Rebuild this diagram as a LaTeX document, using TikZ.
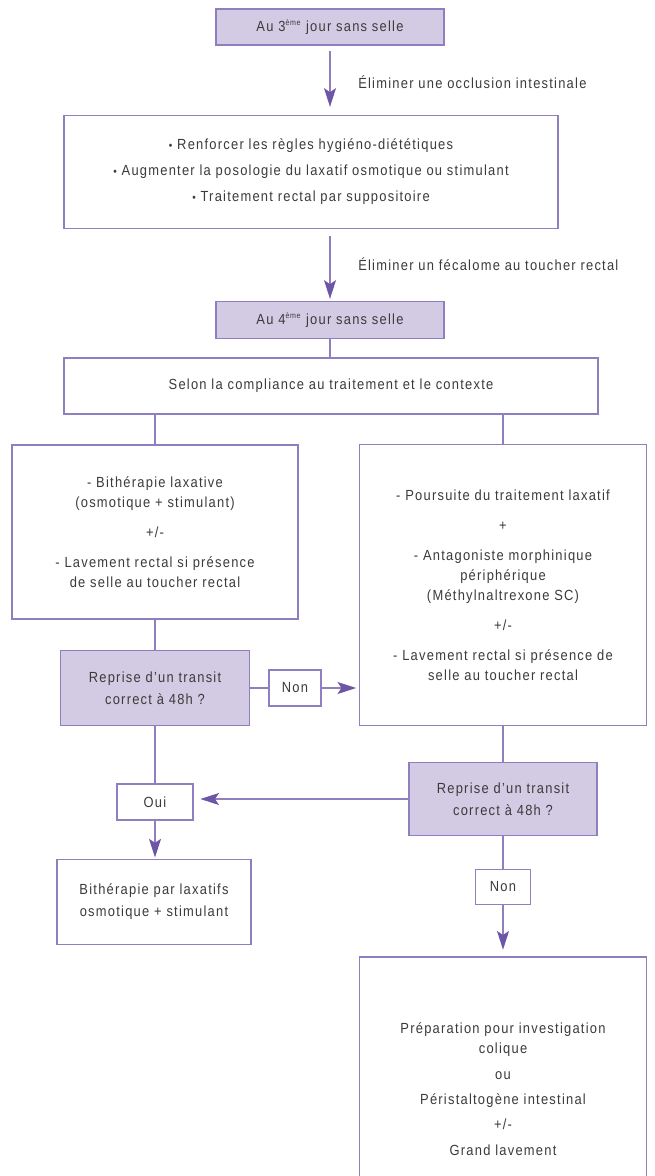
\documentclass[tikz,border=0pt]{standalone}
\usepackage{fontspec}
\setmainfont{Liberation Sans}[FakeStretch=0.88,LetterSpace=8.5]
\usepackage{tikz}
\usetikzlibrary{arrows.meta,positioning}
\definecolor{flowpurple}{HTML}{8F7FC0}
\definecolor{flowhead}{HTML}{6E56A6}
\definecolor{flowfill}{HTML}{D3CBE3}
\definecolor{flowtext}{HTML}{3B3B3B}
\newcommand{\pix}{0.75pt}
\tikzset{
  boxbase/.style={draw=flowpurple,line width=1pt,align=center,inner sep=2pt,text=flowtext,font=\fontsize{11}{15}\selectfont},
  stepbox/.style={boxbase,fill=white},
  daybox/.style={boxbase,fill=flowfill},
  ansbox/.style={boxbase,fill=white,minimum height=36*\pix},
  edgelabel/.style={text=flowtext,font=\fontsize{11}{15}\selectfont,inner sep=0pt},
  flowline/.style={draw=flowpurple,line width=1pt},
  flowarrow/.style={flowline,-{Stealth[length=14pt,width=9pt,inset=3pt,color=flowhead]}},
}
\newcommand{\gap}{\\[7.5pt]}
\newcommand{\blt}{{\fontsize{8.5}{8}\selectfont•}}
\newcommand{\eme}{\textsuperscript{\fontsize{6}{6}\selectfont ème}}

\begin{document}
\begin{tikzpicture}[x=\pix,y=-\pix]
  \useasboundingbox (0,0) rectangle (654,1176);
  % top of the chart
  \node[daybox,minimum width=228*\pix,minimum height=36*\pix] (day3) at (330,27) {Au 3\eme{} jour sans selle};
  \node[edgelabel,anchor=west] (occl) at (358,82) {Éliminer une occlusion intestinale};
  \node[stepbox,minimum width=494*\pix,minimum height=113*\pix] (reinf) at (311,172)
    {\blt{} Renforcer les règles hygiéno-diététiques\\[4.5pt]
     \blt{} Augmenter la posologie du laxatif osmotique ou stimulant\\[4.5pt]
     \blt{} Traitement rectal par suppositoire};
  \node[edgelabel,anchor=west] (fecal) at (358,264) {Éliminer un fécalome au toucher rectal};
  \node[daybox,minimum width=228*\pix,minimum height=37*\pix] (day4) at (330,320) {Au 4\eme{} jour sans selle};
  \node[stepbox,minimum width=534*\pix,minimum height=56*\pix] (ctx) at (331,386) {Selon la compliance au traitement et le contexte};

  % two branches
  \node[stepbox,minimum width=286*\pix,minimum height=174*\pix] (bithL) at (155,532)
    {- Bithérapie laxative\\(osmotique + stimulant)\gap +/-\gap
     - Lavement rectal si présence\\de selle au toucher rectal};
  \node[stepbox,minimum width=287*\pix,minimum height=281*\pix] (poursR) at (503,585)
    {- Poursuite du traitement laxatif\gap +\gap
     - Antagoniste morphinique\\périphérique\\(Méthylnaltrexone SC)\gap +/-\gap
     - Lavement rectal si présence de\\selle au toucher rectal};
  \node[daybox,minimum width=189*\pix,minimum height=75*\pix] (decL) at (155,688) {Reprise d’un transit\\[1.5pt]correct à 48h ?};
  \node[ansbox,minimum width=52*\pix] (nonA) at (295,688) {Non};
  \node[daybox,minimum width=188*\pix,minimum height=73*\pix] (decR) at (503,799) {Reprise d’un transit\\[1.5pt]correct à 48h ?};
  \node[ansbox,minimum width=76*\pix] (oui) at (155,802) {Oui};
  \node[stepbox,minimum width=194*\pix,minimum height=85*\pix] (bithB) at (154,902)
    {Bithérapie par laxatifs\\[1.5pt]osmotique + stimulant};
  \node[ansbox,minimum width=55*\pix,minimum height=35*\pix] (nonB) at (503,887) {Non};
  \node[stepbox,minimum width=287*\pix,minimum height=264*\pix] (prep) at (503,1089)
    {Préparation pour investigation\\colique\\[4pt] ou\\[4pt] Péristaltogène intestinal\\[4pt] +/-\\[4pt] Grand lavement};

  % connectors
  \draw[flowarrow,shorten <=4pt,shorten >=6pt] (day3.south) -- (day3.south |- reinf.north);
  \draw[flowarrow,shorten <=5pt,shorten >=1.5pt] (reinf.south -| day4.north) -- (day4.north);
  \draw[flowline] (day4.south) -- (day4.south |- ctx.north);
  \draw[flowline] (ctx.south -| bithL.north) -- (bithL.north);
  \draw[flowline] (ctx.south -| poursR.north) -- (poursR.north);
  \draw[flowline] (bithL.south) -- (decL.north);
  \draw[flowline] (decL.east) -- (nonA.west);
  \draw[flowarrow,shorten >=2pt] (nonA.east) -- (nonA.east -| poursR.west);
  \draw[flowline] (poursR.south) -- (decR.north);
  \draw[flowarrow,shorten >=5pt] (decR.west) -- (decR.west -| oui.east);
  \draw[flowline] (decL.south) -- (oui.north);
  \draw[flowarrow,shorten >=1pt] (oui.south) -- (bithB.north -| oui.south);
  \draw[flowline] (decR.south) -- (nonB.north);
  \draw[flowarrow,shorten >=5pt] (nonB.south) -- (nonB.south |- prep.north);
\end{tikzpicture}
\end{document}
